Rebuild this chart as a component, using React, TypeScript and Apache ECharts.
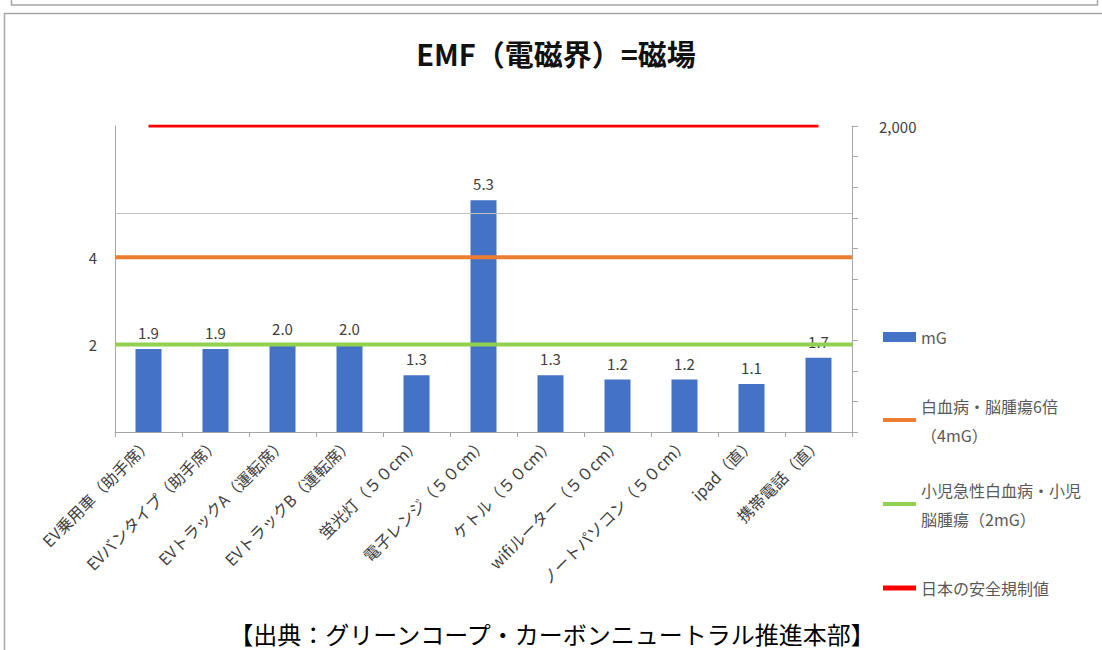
import React, { useEffect, useRef } from "react";
import * as echarts from "echarts";

const categories = [
  "EV乗用車（助手席）",
  "EVバンタイプ（助手席）",
  "EVトラックA（運転席）",
  "EVトラックB（運転席）",
  "蛍光灯（５０cm）",
  "電子レンジ（５０cm）",
  "ケトル（５０cm）",
  "wifiルーター（５０cm）",
  "ノートパソコン（５０cm）",
  "ipad（直）",
  "携帯電話（直）",
];
const mGValues = [1.9, 1.9, 2.0, 2.0, 1.3, 5.3, 1.3, 1.2, 1.2, 1.1, 1.7];
const leukemia6xLevel = 4;
const childLeukemiaLevel = 2;
const japanSafetyLimit = 2000;
const referenceGridLine = 5;
const leftAxisLabels = [2, 4];
const rightAxisLabels = [2000];

const seriesNames = {
  bar: "mG",
  orange: "白血病・脳腫瘍6倍（4mG）",
  green: "小児急性白血病・小児脳腫瘍（2mG）",
  red: "日本の安全規制値",
};
const legendLabels: Record<string, string> = {
  "mG": "mG",
  "白血病・脳腫瘍6倍（4mG）": "白血病・脳腫瘍6倍\n（4mG）",
  "小児急性白血病・小児脳腫瘍（2mG）": "小児急性白血病・小児\n脳腫瘍（2mG）",
  "日本の安全規制値": "日本の安全規制値",
};

const FONT = '"Noto Sans CJK JP", "Noto Sans", sans-serif';
const AXIS_COLOR = "#a6a6a6";

export default function App() {
  const ref = useRef<HTMLDivElement>(null);
  useEffect(() => {
    if (!ref.current) return;
    const chart = echarts.init(ref.current, undefined, { renderer: "svg" });
    const legendText = (lh: number, twoLine: boolean) => ({
      color: "#595959",
      fontSize: 16,
      fontFamily: FONT,
      lineHeight: lh,
      padding: twoLine ? [lh, 0, 0, 0] : 0,
    });
    const option: any = {
      animation: false,
      backgroundColor: "#ffffff",
      textStyle: { fontFamily: FONT },
      grid: { left: 115, right: 250, top: 126, bottom: 218, containLabel: false },
      xAxis: [
        {
          type: "category",
          data: categories,
          boundaryGap: true,
          axisLine: { show: true, lineStyle: { color: AXIS_COLOR, width: 1 } },
          axisTick: { show: true, length: 5, alignWithLabel: false, lineStyle: { color: AXIS_COLOR } },
          axisLabel: {
            rotate: 45,
            interval: 0,
            margin: 8,
            fontSize: 16,
            color: "#404040",
            fontFamily: FONT,
          },
          splitLine: { show: false },
        },
        {
          type: "category",
          data: categories,
          boundaryGap: false,
          show: false,
        },
      ],
      yAxis: [
        {
          type: "value",
          min: 0,
          max: 7,
          interval: 1,
          position: "left",
          axisLine: { show: true, lineStyle: { color: AXIS_COLOR } },
          axisTick: { show: false },
          splitLine: { show: false },
          axisLabel: {
            margin: 18,
            fontSize: 15,
            color: "#404040",
            fontFamily: FONT,
            formatter: (v: number) => (leftAxisLabels.includes(v) ? String(v) : ""),
          },
        },
        {
          type: "value",
          min: 0,
          max: 2000,
          interval: 200,
          position: "right",
          axisLine: { show: true, lineStyle: { color: AXIS_COLOR } },
          axisTick: { show: true, length: 6, inside: false, lineStyle: { color: AXIS_COLOR } },
          splitLine: { show: false },
          axisLabel: {
            margin: 27,
            fontSize: 15,
            color: "#404040",
            fontFamily: FONT,
            formatter: (v: number) =>
              rightAxisLabels.includes(v) ? v.toLocaleString("en-US") : "",
          },
        },
      ],
      legend: [
        {
          data: [{ name: seriesNames.bar, icon: "rect" }],
          left: 883,
          top: 327,
          padding: 0,
          itemWidth: 33,
          itemHeight: 10,
          itemGap: 0,
          orient: "vertical",
          selectedMode: false,
          formatter: (n: string) => legendLabels[n],
          textStyle: legendText(20, false),
        },
        {
          data: [{ name: seriesNames.orange, icon: "rect" }],
          left: 883,
          top: 376.5,
          padding: 0,
          itemWidth: 33,
          itemHeight: 4,
          orient: "vertical",
          selectedMode: false,
          formatter: (n: string) => legendLabels[n],
          textStyle: legendText(29, true),
        },
        {
          data: [{ name: seriesNames.green, icon: "rect" }],
          left: 883,
          top: 460.5,
          padding: 0,
          itemWidth: 33,
          itemHeight: 4,
          orient: "vertical",
          selectedMode: false,
          formatter: (n: string) => legendLabels[n],
          textStyle: legendText(29, true),
        },
        {
          data: [{ name: seriesNames.red, icon: "rect" }],
          left: 883,
          top: 578,
          padding: 0,
          itemWidth: 33,
          itemHeight: 5,
          orient: "vertical",
          selectedMode: false,
          formatter: (n: string) => legendLabels[n],
          textStyle: legendText(20, false),
        },
      ],
      graphic: [
        {
          type: "rect",
          shape: { x: 11.5, y: -3, width: 1086, height: 8 },
          style: { fill: "none", stroke: "#a6a6a6", lineWidth: 1.5 },
        },
        {
          type: "polyline",
          shape: { points: [[4.5, 650], [4.5, 13.5], [1102, 13.5]] },
          style: { fill: "none", stroke: "#a6a6a6", lineWidth: 1.5 },
        },
        {
          type: "text",
          x: 556,
          y: 53,
          style: {
            text: "EMF（電磁界）=磁場",
            align: "center",
            verticalAlign: "middle",
            fontSize: 29,
            fontWeight: "bold",
            fontFamily: FONT,
            fill: "#111111",
          },
        },
        {
          type: "text",
          x: 552,
          y: 633,
          style: {
            text: "【出典：グリーンコープ・カーボンニュートラル推進本部】",
            align: "center",
            verticalAlign: "middle",
            fontSize: 24,
            fontWeight: "normal",
            fontFamily: FONT,
            fill: "#000000",
          },
        },
      ],
      series: [
        {
          name: seriesNames.bar,
          type: "bar",
          xAxisIndex: 0,
          yAxisIndex: 0,
          data: mGValues,
          barWidth: 26,
          itemStyle: { color: "#4472c4" },
          label: {
            show: true,
            position: "top",
            distance: 9,
            fontSize: 15,
            color: "#404040",
            fontFamily: FONT,
            formatter: (p: any) => Number(p.value).toFixed(1),
          },
          markLine: {
            silent: true,
            symbol: "none",
            label: { show: false },
            lineStyle: { color: "#bfbfbf", type: "solid", width: 1 },
            data: [{ yAxis: referenceGridLine }],
          },
          z: 2,
        },
        {
          name: seriesNames.orange,
          type: "line",
          xAxisIndex: 1,
          yAxisIndex: 0,
          data: categories.map(() => leukemia6xLevel),
          symbol: "none",
          lineStyle: { color: "#ed7d31", width: 4 },
          itemStyle: { color: "#ed7d31" },
          z: 5,
        },
        {
          name: seriesNames.green,
          type: "line",
          xAxisIndex: 1,
          yAxisIndex: 0,
          data: categories.map(() => childLeukemiaLevel),
          symbol: "none",
          lineStyle: { color: "#92d050", width: 4 },
          itemStyle: { color: "#92d050" },
          z: 5,
        },
        {
          name: seriesNames.red,
          type: "line",
          xAxisIndex: 0,
          yAxisIndex: 1,
          data: categories.map(() => japanSafetyLimit),
          symbol: "none",
          lineStyle: { color: "#ff0000", width: 3 },
          itemStyle: { color: "#ff0000" },
          z: 5,
        },
      ],
    };
    chart.setOption(option);
    return () => chart.dispose();
  }, []);
  return (
    <div
      ref={ref}
      style={{ position: "fixed", left: 0, top: 0, width: 1102, height: 650, background: "#fff" }}
    />
  );
}
